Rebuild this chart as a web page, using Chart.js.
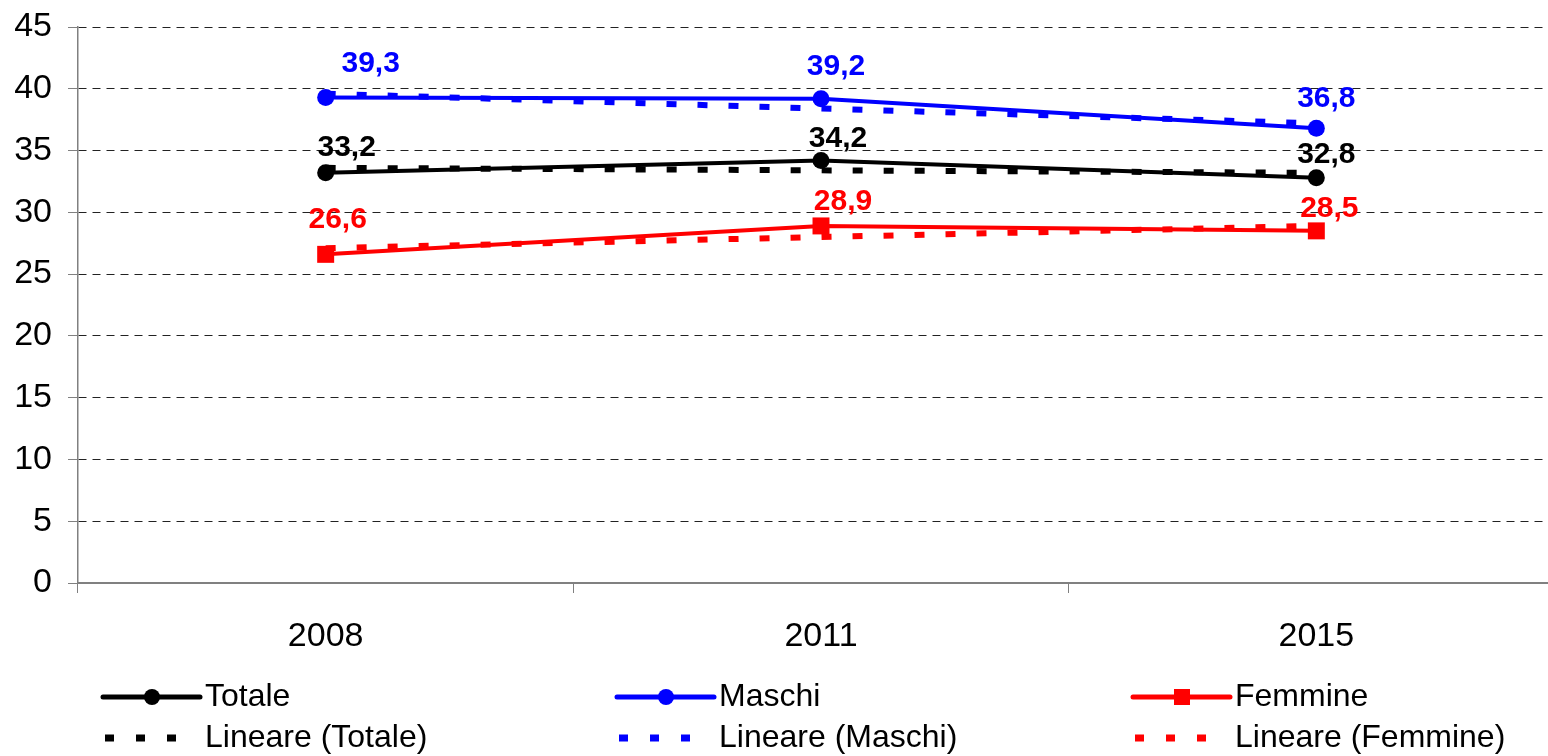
<!DOCTYPE html>
<html>
<head>
<meta charset="utf-8">
<script src="https://cdn.jsdelivr.net/npm/chart.js@4.4.0/dist/chart.umd.min.js"></script>
<style>
  html, body { margin: 0; padding: 0; background: #fff; overflow: hidden; }
  canvas { display: block; }
</style>
</head>
<body>
<canvas id="chart" width="1576" height="756"></canvas>
<script>
const years = ["2008", "2011", "2015"];
const totale = [33.2, 34.2, 32.8];
const maschi = [39.3, 39.2, 36.8];
const femmine = [26.6, 28.9, 28.5];
// linear trend lines
const trendTotale = [33.6, 33.4, 33.2];
const trendMaschi = [39.6, 38.4, 37.2];
const trendFemmine = [27.1, 28.0, 28.9];
const yTicks = [0, 5, 10, 15, 20, 25, 30, 35, 40, 45];

const FONT = '"Liberation Sans", Arial, sans-serif';

// where each value label sits relative to its point
const labelOffsets = [
  [[21, -25], [17, -22], [10, -23]],
  [[45, -34], [15, -32], [10, -30]],
  [[12, -35], [22, -24], [13, -22]]
];

const valueLabels = {
  id: 'valueLabels',
  afterDatasetsDraw(chart) {
    const ctx = chart.ctx;
    ctx.save();
    ctx.font = 'bold 30px ' + FONT;
    ctx.textAlign = 'center';
    ctx.textBaseline = 'middle';
    [0, 1, 2].forEach(di => {
      const ds = chart.data.datasets[di];
      chart.getDatasetMeta(di).data.forEach((pt, i) => {
        const off = labelOffsets[di][i];
        ctx.fillStyle = ds.borderColor;
        ctx.fillText(ds.data[i].toFixed(1).replace('.', ','), pt.x + off[0], pt.y + off[1]);
      });
    });
    ctx.restore();
  }
};

// legend in three columns, two rows
const legendCols = [103, 617, 1133];
const legendRows = [697, 738];

const gridLegend = {
  id: 'gridLegend',
  afterDraw(chart) {
    const ctx = chart.ctx;
    ctx.save();
    ctx.font = '32px ' + FONT;
    ctx.textAlign = 'left';
    ctx.textBaseline = 'middle';
    chart.data.datasets.forEach((ds, i) => {
      const x = legendCols[i % 3];
      const y = legendRows[Math.floor(i / 3)];
      ctx.strokeStyle = ds.borderColor;
      ctx.fillStyle = ds.borderColor;
      ctx.lineCap = 'butt';
      if (ds.isTrend) {
        ctx.lineWidth = 7;
        ctx.setLineDash([9, 22]);
        ctx.beginPath();
        ctx.moveTo(x + 2, y);
        ctx.lineTo(x + 90, y);
        ctx.stroke();
      } else {
        ctx.lineWidth = 5;
        ctx.setLineDash([]);
        ctx.lineCap = 'round';
        ctx.beginPath();
        ctx.moveTo(x, y);
        ctx.lineTo(x + 97, y);
        ctx.stroke();
        if (ds.pointStyle === 'rect') {
          ctx.fillRect(x + 41, y - 8, 16, 16);
        } else {
          ctx.beginPath();
          ctx.arc(x + 49, y, 8, 0, Math.PI * 2);
          ctx.fill();
        }
      }
      ctx.fillStyle = '#000';
      ctx.fillText(ds.label, x + 102, y);
    });
    ctx.restore();
  }
};

function mainSeries(label, data, color, style, radius) {
  return {
    label: label, data: data,
    borderColor: color, backgroundColor: color,
    borderWidth: 4, pointStyle: style, pointRadius: radius,
    pointBorderWidth: 0, pointBackgroundColor: color, tension: 0
  };
}

function trendSeries(label, data, color) {
  return {
    label: label, data: data, isTrend: true,
    borderColor: color, backgroundColor: color,
    borderWidth: 6, borderDash: [10, 21], borderCapStyle: 'butt',
    pointRadius: 0, tension: 0
  };
}

const ctx = document.getElementById('chart').getContext('2d');
new Chart(ctx, {
  type: 'line',
  data: {
    labels: years,
    datasets: [
      mainSeries('Totale', totale, '#000000', 'circle', 8.5),
      mainSeries('Maschi', maschi, '#0000ff', 'circle', 8.5),
      mainSeries('Femmine', femmine, '#ff0000', 'rect', 12),
      trendSeries('Lineare (Totale)', trendTotale, '#000000'),
      trendSeries('Lineare (Maschi)', trendMaschi, '#0000ff'),
      trendSeries('Lineare (Femmine)', trendFemmine, '#ff0000')
    ]
  },
  options: {
    responsive: false,
    animation: false,
    layout: { padding: { top: 27, bottom: 100, left: 0, right: 0 } },
    plugins: { legend: { display: false }, tooltip: { enabled: false } },
    scales: {
      x: {
        type: 'category',
        offset: true,
        afterFit(scale) { scale.height = 73; },
        grid: { drawOnChartArea: false, offset: true, tickLength: 10, tickColor: '#808080', color: '#808080' },
        border: { color: '#808080', width: 2 },
        ticks: { color: '#000', font: { family: FONT, size: 34 }, padding: 23 }
      },
      y: {
        min: 0, max: 45,
        afterBuildTicks(scale) { scale.ticks = yTicks.map(v => ({ value: v })); },
        afterFit(scale) {
          scale.width = 78;
          scale.paddingTop = 0;
          scale.paddingBottom = 0;
        },
        grid: {
          color: c => (c.tick && c.tick.value === 0 ? 'rgba(0,0,0,0)' : '#222'),
          lineWidth: 1, tickLength: 10, tickColor: '#808080', tickBorderDash: []
        },
        border: { color: '#808080', width: 1.5, dash: [8, 6] },
        ticks: { color: '#000', font: { family: FONT, size: 34 }, padding: 16 }
      }
    }
  },
  plugins: [valueLabels, gridLegend]
});
</script>
</body>
</html>
